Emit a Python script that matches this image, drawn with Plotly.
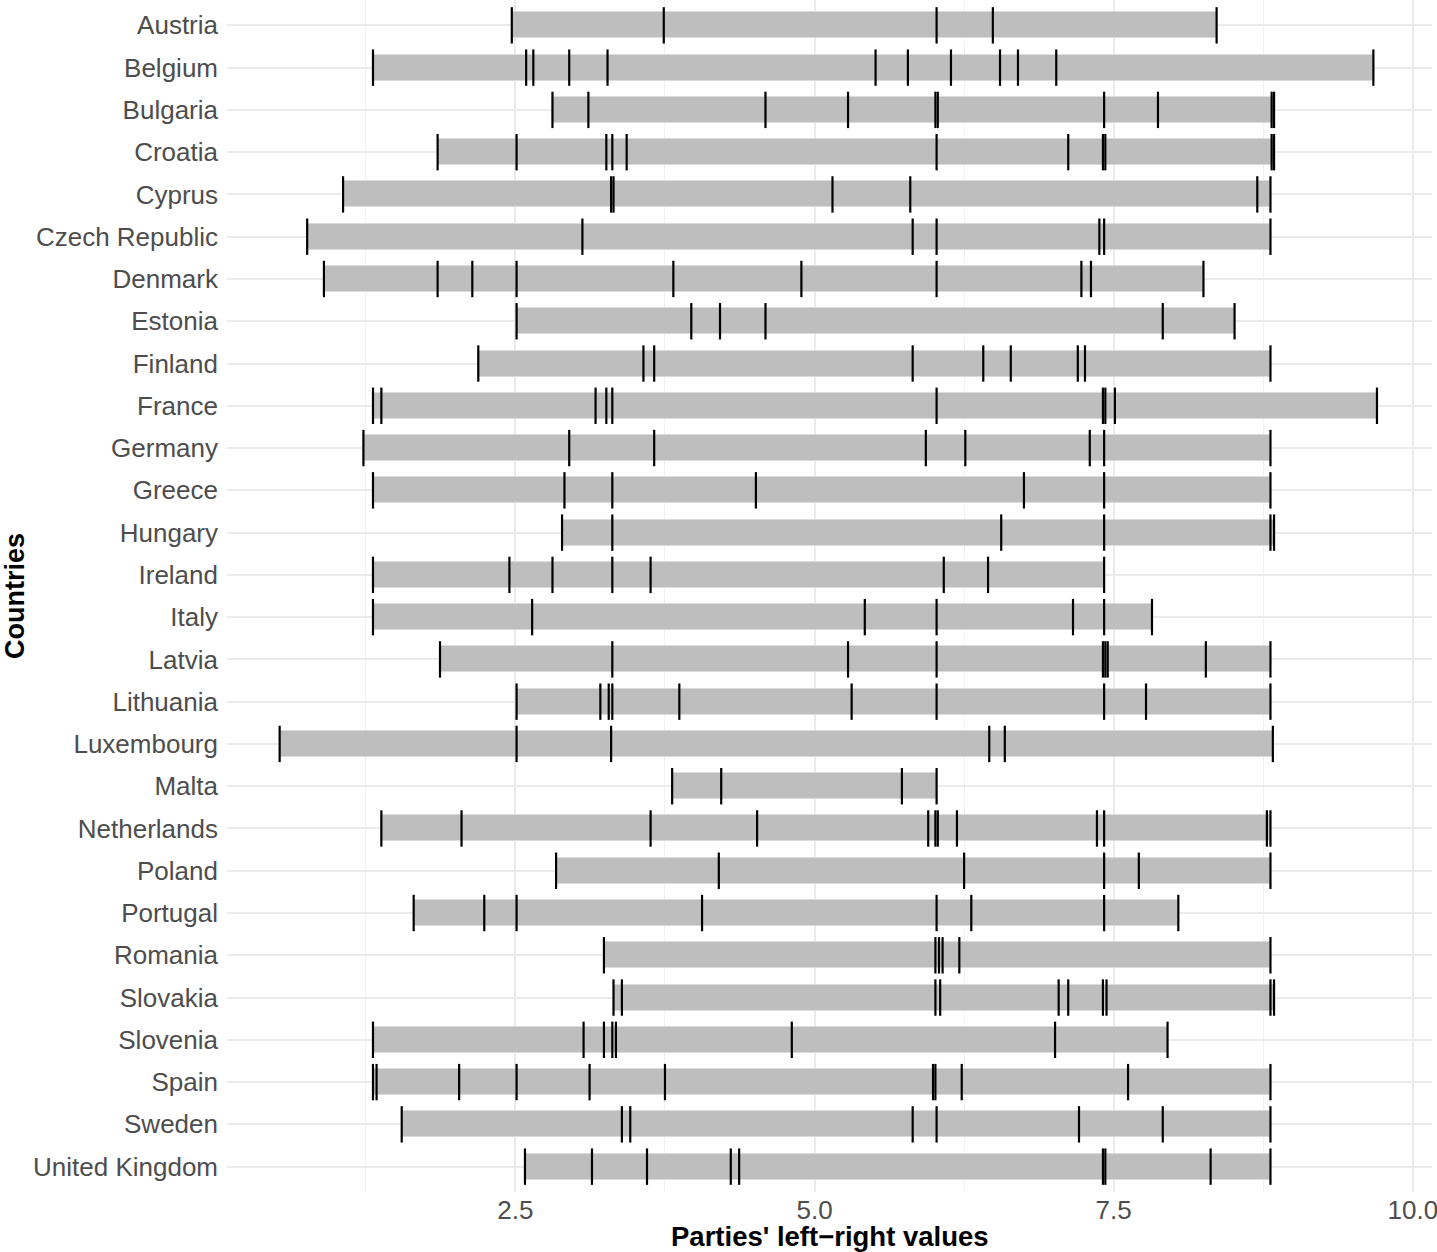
import plotly.graph_objects as go

countries = ["Austria", "Belgium", "Bulgaria", "Croatia", "Cyprus", "Czech Republic",
             "Denmark", "Estonia", "Finland", "France", "Germany", "Greece", "Hungary",
             "Ireland", "Italy", "Latvia", "Lithuania", "Luxembourg", "Malta",
             "Netherlands", "Poland", "Portugal", "Romania", "Slovakia", "Slovenia",
             "Spain", "Sweden", "United Kingdom"]

austria = [2.47, 3.74, 6.02, 6.49, 8.36]
belgium = [1.31, 2.59, 2.65, 2.95, 3.27, 5.51, 5.78, 6.14, 6.55, 6.70, 7.02, 9.67]
bulgaria = [2.81, 3.11, 4.59, 5.28, 6.01, 6.03, 7.42, 7.87, 8.82, 8.84]
croatia = [1.85, 2.51, 3.26, 3.31, 3.43, 6.02, 7.12, 7.41, 7.43, 8.82, 8.84]
cyprus = [1.06, 3.30, 3.32, 5.15, 5.80, 8.70, 8.81]
czech = [0.76, 3.06, 5.82, 6.02, 7.38, 7.42, 8.81]
denmark = [0.90, 1.85, 2.14, 2.51, 3.82, 4.89, 6.02, 7.23, 7.31, 8.25]
estonia = [2.51, 3.97, 4.21, 4.59, 7.91, 8.51]
finland = [2.19, 3.57, 3.66, 5.82, 6.41, 6.64, 7.20, 7.26, 8.81]
france = [1.31, 1.38, 3.17, 3.26, 3.31, 6.02, 7.41, 7.43, 7.51, 9.70]
germany = [1.23, 2.95, 3.66, 5.93, 6.26, 7.30, 7.42, 8.81]
greece = [1.31, 2.91, 3.31, 4.51, 6.75, 7.42, 8.81]
hungary = [2.89, 3.31, 6.56, 7.42, 8.81, 8.84]
ireland = [1.31, 2.45, 2.81, 3.31, 3.63, 6.08, 6.45, 7.42]
italy = [1.31, 2.64, 5.42, 6.02, 7.16, 7.42, 7.82]
latvia = [1.87, 3.31, 5.28, 6.02, 7.41, 7.43, 7.45, 8.27, 8.81]
lithuania = [2.51, 3.21, 3.28, 3.31, 3.87, 5.31, 6.02, 7.42, 7.77, 8.81]
luxembourg = [0.53, 2.51, 3.30, 6.46, 6.59, 8.83]
malta = [3.81, 4.22, 5.73, 6.02]
netherlands = [1.38, 2.05, 3.63, 4.52, 5.95, 6.01, 6.03, 6.19, 7.36, 7.42, 8.78, 8.81]
poland = [2.84, 4.20, 6.25, 7.42, 7.71, 8.81]
portugal = [1.65, 2.24, 2.51, 4.06, 6.02, 6.31, 7.42, 8.04]
romania = [3.24, 6.01, 6.04, 6.07, 6.21, 8.81]
slovakia = [3.32, 3.39, 6.01, 6.05, 7.04, 7.12, 7.41, 7.44, 8.81, 8.84]
slovenia = [1.31, 3.07, 3.24, 3.31, 3.34, 4.81, 7.01, 7.95]
spain = [1.31, 1.34, 2.03, 2.51, 3.12, 3.75, 5.99, 6.01, 6.23, 7.62, 8.81]
sweden = [1.55, 3.39, 3.46, 5.82, 6.02, 7.21, 7.91, 8.81]
uk = [2.58, 3.14, 3.60, 4.30, 4.37, 7.41, 7.43, 8.31, 8.81]

positions = [austria, belgium, bulgaria, croatia, cyprus, czech, denmark, estonia,
             finland, france, germany, greece, hungary, ireland, italy, latvia,
             lithuania, luxembourg, malta, netherlands, poland, portugal, romania,
             slovakia, slovenia, spain, sweden, uk]

x_tickvals = [2.5, 5.0, 7.5, 10.0]
x_ticktext = ["2.5", "5.0", "7.5", "10.0"]

mins = [min(p) for p in positions]
maxs = [max(p) for p in positions]

fig = go.Figure()
fig.add_trace(go.Bar(
    y=countries, x=[b - a for a, b in zip(mins, maxs)], base=mins,
    orientation="h", width=0.615,
    marker=dict(color="#BEBEBE", line=dict(color="#DCDCDC", width=1)),
    showlegend=False, hoverinfo="skip"))

px, py = [], []
for c, p in zip(countries, positions):
    for v in p:
        px.append(v)
        py.append(c)
fig.add_trace(go.Scatter(
    x=px, y=py, mode="markers",
    marker=dict(symbol="line-ns", size=26, line=dict(color="black", width=2.2)),
    showlegend=False))

font_family = "Liberation Sans, Arial, sans-serif"
fig.update_layout(
    width=1437, height=1252,
    margin=dict(l=227, r=5, t=0, b=60),
    plot_bgcolor="white", paper_bgcolor="white",
    font=dict(family=font_family, size=26, color="#4D4D4D"),
    bargap=0,
    xaxis=dict(range=[0.09, 10.16], tickvals=x_tickvals, ticktext=x_ticktext,
               automargin=False, ticklabeloverflow="allow",
               showgrid=True, gridcolor="#EBEBEB", gridwidth=1.5, zeroline=False,
               showline=False, ticks="", tickfont=dict(size=26, color="#4D4D4D"),
               ticklabelstandoff=0,
               minor=dict(tickvals=[1.25, 3.75, 6.25, 8.75], showgrid=True,
                          gridcolor="#F2F2F2", gridwidth=1)),
    yaxis=dict(categoryorder="array", categoryarray=countries,
               range=[len(countries) - 0.4, -0.6], automargin=False,
               showgrid=True, gridcolor="#EBEBEB", gridwidth=1.5, zeroline=False,
               showline=False, ticks="", ticklabelstandoff=8,
               tickfont=dict(size=26, color="#4D4D4D")),
    annotations=[
        dict(text="<b>Parties' left\u2212right values</b>", xref="paper", yref="paper",
             x=0.5, y=0, xanchor="center", yanchor="top", yshift=-27,
             showarrow=False, font=dict(size=27.5, color="black")),
        dict(text="<b>Countries</b>", xref="paper", yref="paper",
             x=0, y=0.5, xanchor="center", yanchor="middle", xshift=-212,
             textangle=-90, showarrow=False, font=dict(size=27, color="black")),
    ],
)

fig.write_html("out.html", config={"displayModeBar": False},
               post_script="document.body.style.margin='0';document.body.style.overflow='hidden';")
